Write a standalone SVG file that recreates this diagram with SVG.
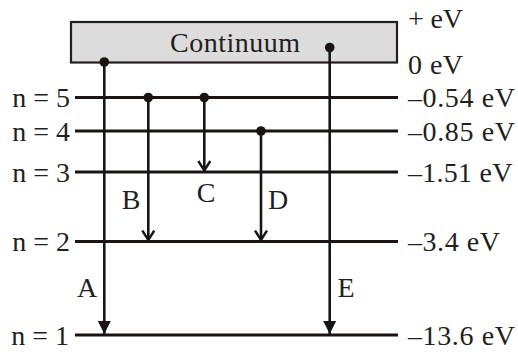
<svg xmlns="http://www.w3.org/2000/svg" width="518" height="352" viewBox="0 0 518 352">
<style>
.t{font-family:"Liberation Serif","Times New Roman",serif;font-size:28px;fill:#231f20}
.lvl{stroke:#1a1414;stroke-width:3;fill:none}
.tr{stroke:#1a1414;stroke-width:2.6;fill:none}
.dot{fill:#1a1414}
</style>
<defs>
<marker id="open" viewBox="0 0 12 14" refX="11" refY="7" markerWidth="12" markerHeight="14" markerUnits="userSpaceOnUse" orient="auto">
<path d="M1,1 L10.5,7 L1,13" fill="none" stroke="#1a1414" stroke-width="2.4"/>
</marker>
<marker id="fill" viewBox="0 0 13 14" refX="13" refY="7" markerWidth="13" markerHeight="14" markerUnits="userSpaceOnUse" orient="auto">
<path d="M0,0.5 L13,7 L0,13.5 Z" fill="#1a1414"/>
</marker>
</defs>
<rect width="518" height="352" fill="#fff"/>
<g id="continuum">
<rect x="71" y="22" width="326" height="40.5" fill="#dcdcdc" stroke="#231f20" stroke-width="2.2"/>
<text class="t" x="170" y="52" textLength="130" lengthAdjust="spacing">Continuum</text>
</g>
<g id="levels">
<line class="lvl" x1="75" y1="97.5" x2="398" y2="97.5"/>
<line class="lvl" x1="75" y1="131" x2="398" y2="131"/>
<line class="lvl" x1="75" y1="172" x2="398" y2="172"/>
<line class="lvl" x1="75" y1="241.5" x2="398" y2="241.5"/>
<line class="lvl" x1="75" y1="335" x2="398" y2="335"/>
</g>
<g id="left-labels">
<text class="t" x="70" y="107" text-anchor="end">n = 5</text>
<text class="t" x="70" y="140.5" text-anchor="end">n = 4</text>
<text class="t" x="70" y="181.5" text-anchor="end">n = 3</text>
<text class="t" x="70" y="251" text-anchor="end">n = 2</text>
<text class="t" x="69" y="344.5" text-anchor="end">n = 1</text>
</g>
<g id="right-labels">
<text class="t" x="408" y="28" textLength="55" lengthAdjust="spacing">+ eV</text>
<text class="t" x="408" y="74" textLength="55" lengthAdjust="spacing">0 eV</text>
<text class="t" x="408" y="107" textLength="107" lengthAdjust="spacing">–0.54 eV</text>
<text class="t" x="408" y="140.5" textLength="107" lengthAdjust="spacing">–0.85 eV</text>
<text class="t" x="408" y="181.5" textLength="104.5" lengthAdjust="spacing">–1.51 eV</text>
<text class="t" x="408" y="251" textLength="92" lengthAdjust="spacing">–3.4 eV</text>
<text class="t" x="408" y="344.5" textLength="107" lengthAdjust="spacing">–13.6 eV</text>
</g>
<g id="connectors">
<line class="tr" x1="104.3" y1="62" x2="104.3" y2="334" marker-end="url(#fill)"/>
<line class="tr" x1="148.3" y1="97.5" x2="148.3" y2="240.5" marker-end="url(#open)"/>
<line class="tr" x1="204.3" y1="97.5" x2="204.3" y2="171" marker-end="url(#open)"/>
<line class="tr" x1="261" y1="131" x2="261" y2="240.5" marker-end="url(#open)"/>
<line class="tr" x1="329.7" y1="47.5" x2="329.7" y2="334" marker-end="url(#fill)"/>
<circle class="dot" cx="104.3" cy="62" r="4.8"/>
<circle class="dot" cx="148.3" cy="97.5" r="4.8"/>
<circle class="dot" cx="204.3" cy="97.5" r="4.8"/>
<circle class="dot" cx="261" cy="131" r="4.8"/>
<circle class="dot" cx="329.7" cy="47.5" r="4.8"/>
</g>
<g id="transition-labels">
<text class="t" x="131" y="209" text-anchor="middle">B</text>
<text class="t" x="206" y="202" text-anchor="middle">C</text>
<text class="t" x="278" y="209" text-anchor="middle">D</text>
<text class="t" x="87" y="297" text-anchor="middle">A</text>
<text class="t" x="346" y="297" text-anchor="middle">E</text>
</g>
</svg>
